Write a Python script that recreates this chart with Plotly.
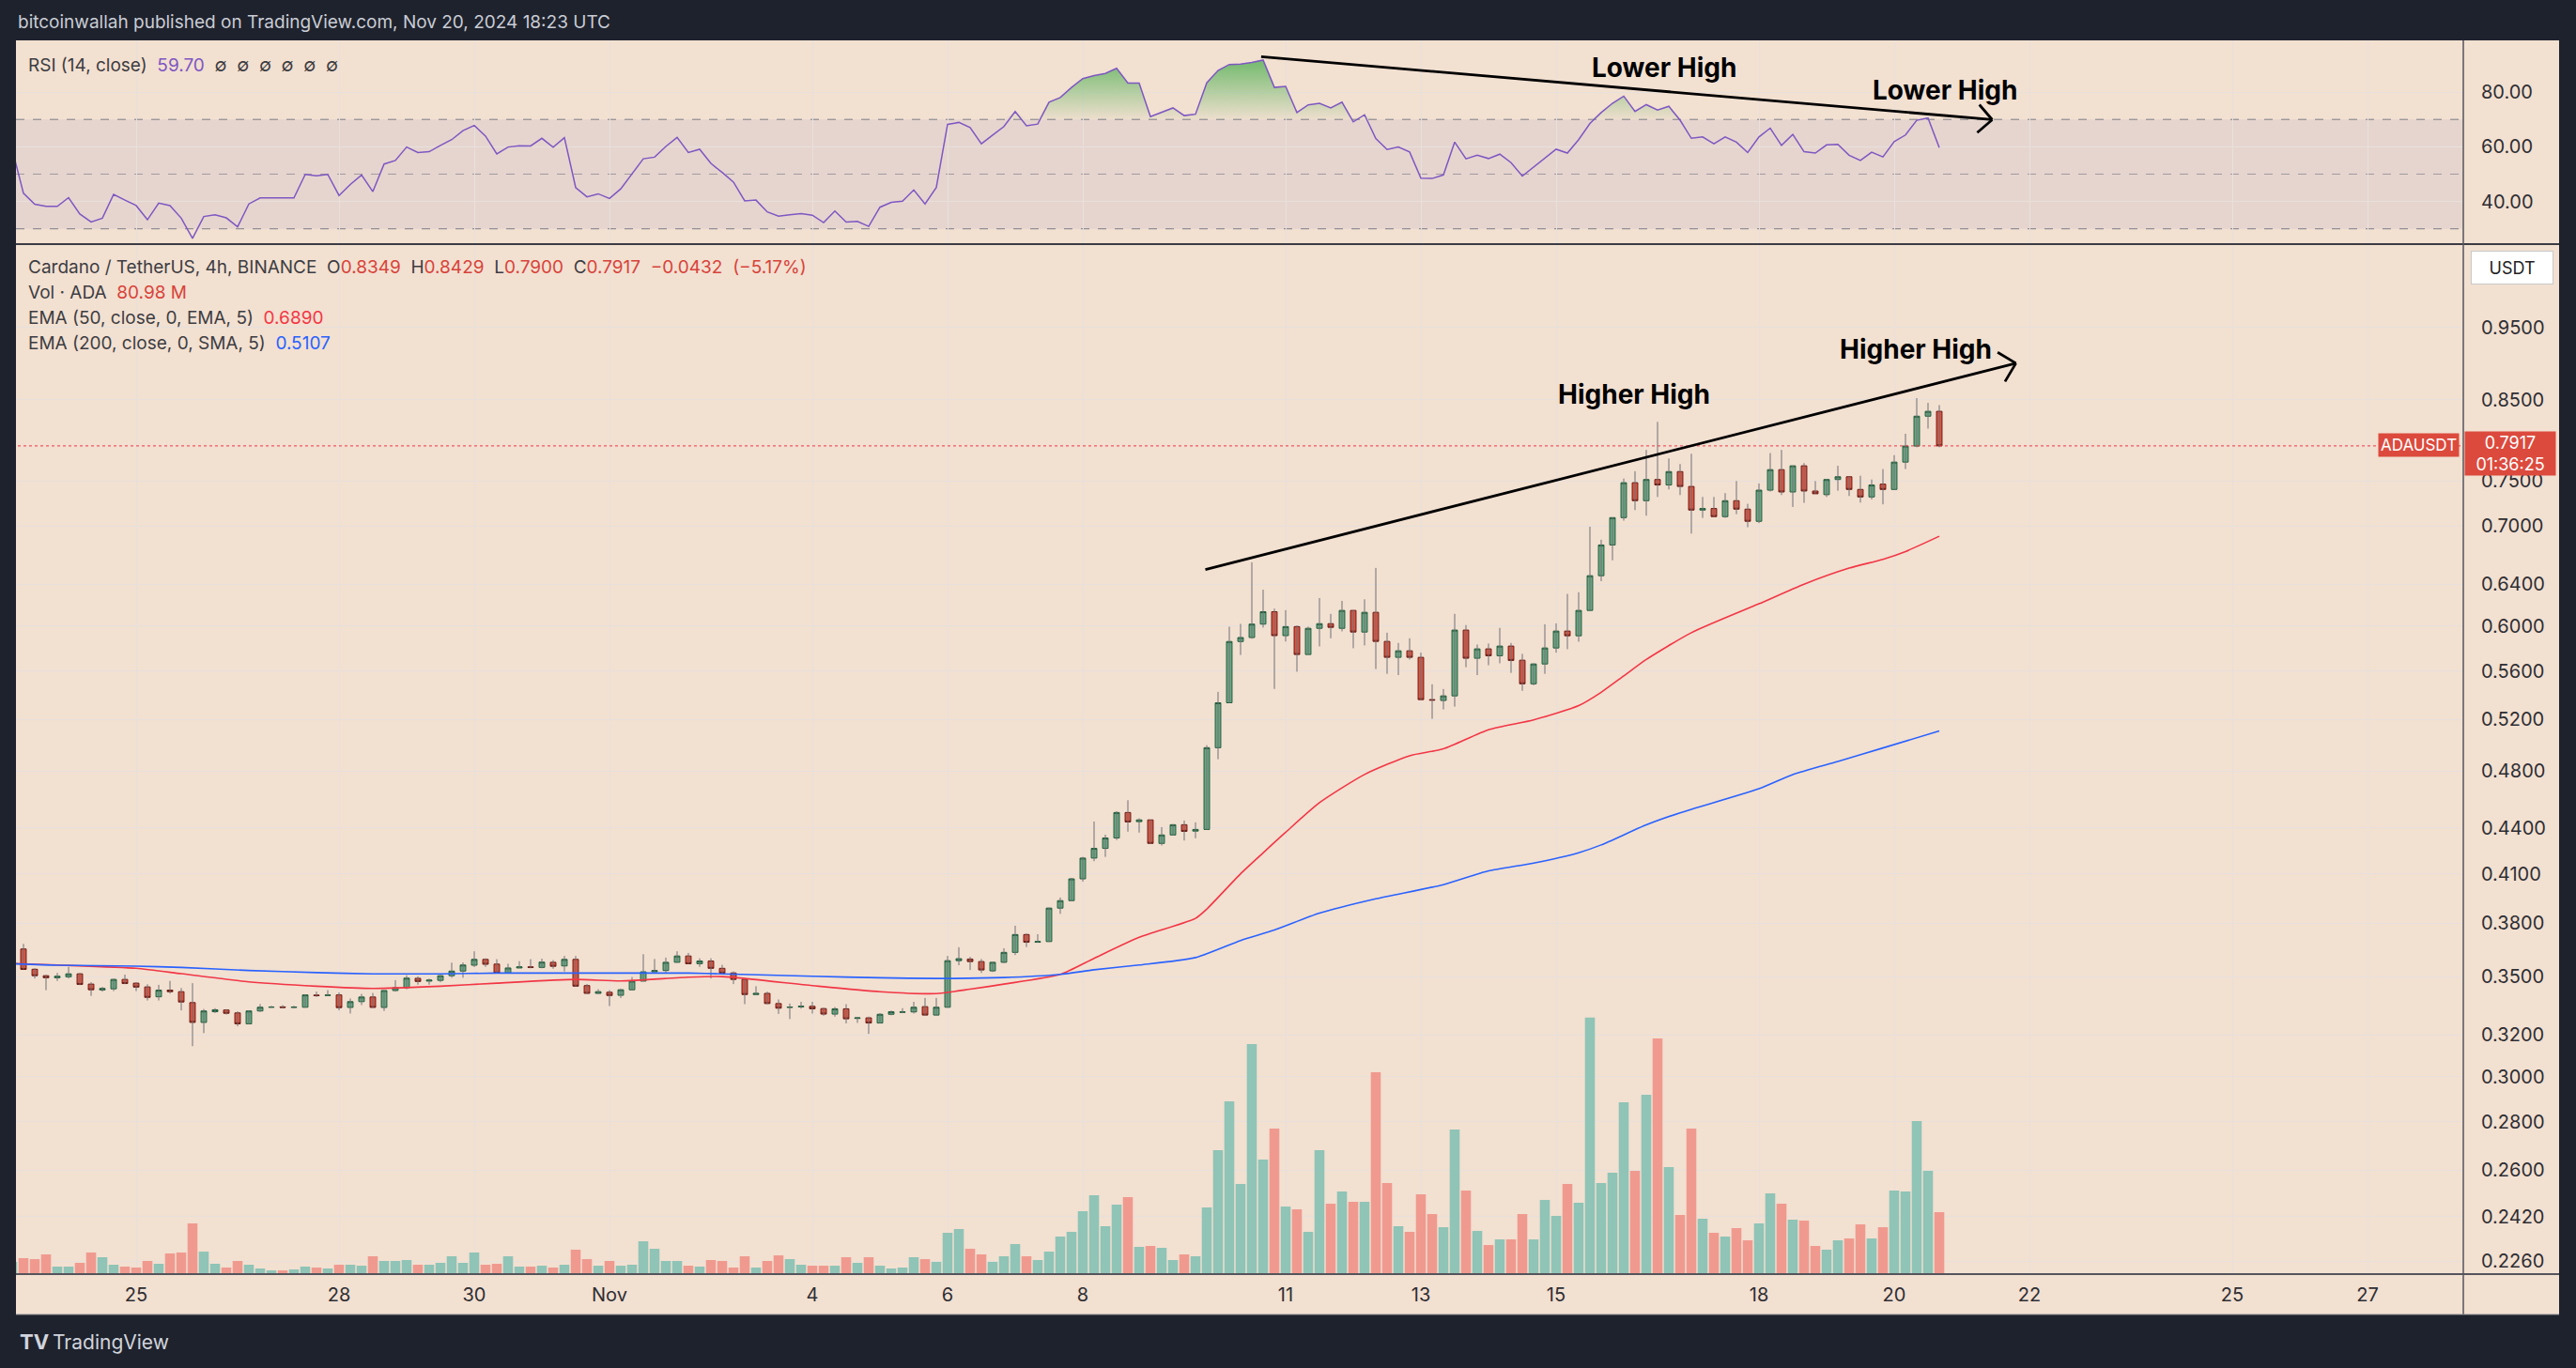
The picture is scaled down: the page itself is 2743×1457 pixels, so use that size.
import numpy as np
import pandas as pd
import plotly.graph_objects as go

W, H = 2743, 1457
FONT = "Inter, Roboto, sans-serif"

# 4h bars, first bar Oct 23 04:00 UTC, bar index 0 = Oct 25 00:00
first_bar = "2024-10-23 04:00"
bar_zero = pd.Timestamp("2024-10-25 00:00")

open_ = [
    0.3632, 0.3652, 0.3540, 0.3505, 0.3494, 0.3499, 0.3515, 0.3460, 0.3429, 0.3435,
    0.3485, 0.3465, 0.3445, 0.3393, 0.3428, 0.3420, 0.3363, 0.3262, 0.3316, 0.3325,
    0.3310, 0.3255, 0.3320, 0.3339, 0.3341, 0.3338, 0.3339, 0.3402, 0.3400, 0.3403,
    0.3338, 0.3368, 0.3392, 0.3338, 0.3426, 0.3441, 0.3491, 0.3476, 0.3480, 0.3505,
    0.3530, 0.3562, 0.3594, 0.3568, 0.3519, 0.3547, 0.3553, 0.3550, 0.3578, 0.3558,
    0.3594, 0.3452, 0.3411, 0.3417, 0.3401, 0.3430, 0.3476, 0.3526, 0.3533, 0.3578,
    0.3613, 0.3570, 0.3585, 0.3545, 0.3520, 0.3485, 0.3405, 0.3411, 0.3358, 0.3338,
    0.3341, 0.3344, 0.3332, 0.3304, 0.3331, 0.3282, 0.3285, 0.3259, 0.3303, 0.3313,
    0.3315, 0.3342, 0.3299, 0.3339, 0.3587, 0.3596, 0.3582, 0.3531, 0.3578, 0.3633,
    0.3734, 0.3690, 0.3694, 0.3889, 0.3934, 0.4068, 0.4200, 0.4263, 0.4332, 0.4505,
    0.4442, 0.4454, 0.4296, 0.4352, 0.4421, 0.4378, 0.4389, 0.4977, 0.5333, 0.5860,
    0.5896, 0.6019, 0.6135, 0.5913, 0.5996, 0.5744, 0.5980, 0.6023, 0.5980, 0.6147,
    0.5946, 0.6129, 0.5861, 0.5719, 0.5777, 0.5719, 0.5359, 0.5352, 0.5390, 0.5964,
    0.5711, 0.5794, 0.5733, 0.5819, 0.5694, 0.5491, 0.5661, 0.5802, 0.5955, 0.5912,
    0.6147, 0.6484, 0.6798, 0.7090, 0.7481, 0.7277, 0.7518, 0.7455, 0.7610, 0.7438,
    0.7173, 0.7190, 0.7101, 0.7277, 0.7183, 0.7050, 0.7396, 0.7633, 0.7375, 0.7678,
    0.7386, 0.7345, 0.7518, 0.7550, 0.7404, 0.7319, 0.7465, 0.7404, 0.7722, 0.7915,
    0.8287, 0.8349,
]
high = [
    0.3655, 0.3681, 0.3545, 0.3510, 0.3520, 0.3553, 0.3520, 0.3470, 0.3445, 0.3490,
    0.3511, 0.3470, 0.3459, 0.3456, 0.3477, 0.3439, 0.3465, 0.3330, 0.3334, 0.3329,
    0.3318, 0.3322, 0.3355, 0.3347, 0.3350, 0.3347, 0.3405, 0.3420, 0.3428, 0.3416,
    0.3384, 0.3408, 0.3413, 0.3428, 0.3481, 0.3507, 0.3502, 0.3489, 0.3509, 0.3576,
    0.3577, 0.3639, 0.3600, 0.3595, 0.3570, 0.3584, 0.3595, 0.3598, 0.3590, 0.3613,
    0.3613, 0.3460, 0.3433, 0.3428, 0.3436, 0.3498, 0.3623, 0.3596, 0.3604, 0.3639,
    0.3630, 0.3600, 0.3600, 0.3564, 0.3528, 0.3487, 0.3449, 0.3420, 0.3379, 0.3358,
    0.3367, 0.3367, 0.3337, 0.3340, 0.3355, 0.3290, 0.3291, 0.3309, 0.3322, 0.3334,
    0.3367, 0.3387, 0.3387, 0.3613, 0.3662, 0.3608, 0.3596, 0.3582, 0.3656, 0.3785,
    0.3741, 0.3736, 0.3892, 0.3953, 0.4074, 0.4208, 0.4443, 0.4354, 0.4514, 0.4591,
    0.4465, 0.4456, 0.4405, 0.4425, 0.4450, 0.4437, 0.4996, 0.5423, 0.5995, 0.6021,
    0.6619, 0.6346, 0.6164, 0.6150, 0.6007, 0.5996, 0.6265, 0.6114, 0.6238, 0.6150,
    0.6253, 0.6562, 0.5940, 0.5847, 0.5889, 0.5761, 0.5487, 0.5447, 0.6114, 0.6010,
    0.5833, 0.5842, 0.5984, 0.5847, 0.5750, 0.5667, 0.6017, 0.6026, 0.6305, 0.6321,
    0.6992, 0.6853, 0.7092, 0.7529, 0.7614, 0.7868, 0.8215, 0.7766, 0.7699, 0.7822,
    0.7319, 0.7319, 0.7362, 0.7501, 0.7242, 0.7473, 0.7830, 0.7868, 0.7680, 0.7710,
    0.7500, 0.7520, 0.7678, 0.7550, 0.7561, 0.7518, 0.7640, 0.7805, 0.8066, 0.8520,
    0.8459, 0.8429,
]
low = [
    0.3628, 0.3539, 0.3490, 0.3428, 0.3477, 0.3490, 0.3455, 0.3398, 0.3420, 0.3423,
    0.3460, 0.3423, 0.3374, 0.3374, 0.3410, 0.3323, 0.3145, 0.3209, 0.3310, 0.3302,
    0.3243, 0.3252, 0.3315, 0.3336, 0.3333, 0.3333, 0.3337, 0.3392, 0.3398, 0.3323,
    0.3307, 0.3350, 0.3337, 0.3320, 0.3420, 0.3433, 0.3457, 0.3457, 0.3470, 0.3494,
    0.3494, 0.3552, 0.3553, 0.3516, 0.3516, 0.3545, 0.3545, 0.3545, 0.3543, 0.3528,
    0.3445, 0.3408, 0.3408, 0.3345, 0.3387, 0.3426, 0.3475, 0.3525, 0.3520, 0.3575,
    0.3570, 0.3553, 0.3490, 0.3511, 0.3460, 0.3355, 0.3403, 0.3355, 0.3305, 0.3279,
    0.3332, 0.3307, 0.3296, 0.3291, 0.3257, 0.3260, 0.3205, 0.3257, 0.3298, 0.3310,
    0.3307, 0.3296, 0.3296, 0.3337, 0.3562, 0.3536, 0.3520, 0.3525, 0.3573, 0.3618,
    0.3663, 0.3688, 0.3692, 0.3855, 0.3930, 0.4050, 0.4180, 0.4208, 0.4318, 0.4374,
    0.4368, 0.4294, 0.4282, 0.4348, 0.4315, 0.4330, 0.4387, 0.4890, 0.5330, 0.5740,
    0.5885, 0.5987, 0.5448, 0.5860, 0.5594, 0.5744, 0.5816, 0.5889, 0.5952, 0.5800,
    0.5825, 0.5617, 0.5576, 0.5565, 0.5700, 0.5359, 0.5203, 0.5279, 0.5302, 0.5633,
    0.5565, 0.5650, 0.5667, 0.5584, 0.5432, 0.5478, 0.5576, 0.5760, 0.5791, 0.5858,
    0.6145, 0.6430, 0.6640, 0.7057, 0.7173, 0.7111, 0.7319, 0.7404, 0.7340, 0.6918,
    0.7087, 0.7101, 0.7087, 0.7128, 0.6986, 0.7030, 0.7380, 0.7340, 0.7207, 0.7253,
    0.7355, 0.7319, 0.7390, 0.7330, 0.7256, 0.7290, 0.7236, 0.7400, 0.7640, 0.7900,
    0.8130, 0.7900,
]
close_ = [
    0.3652, 0.3539, 0.3505, 0.3494, 0.3502, 0.3515, 0.3458, 0.3430, 0.3437, 0.3485,
    0.3463, 0.3444, 0.3390, 0.3428, 0.3420, 0.3366, 0.3262, 0.3320, 0.3326, 0.3308,
    0.3255, 0.3320, 0.3339, 0.3340, 0.3338, 0.3340, 0.3403, 0.3399, 0.3402, 0.3337,
    0.3368, 0.3392, 0.3338, 0.3426, 0.3441, 0.3492, 0.3474, 0.3481, 0.3505, 0.3530,
    0.3563, 0.3594, 0.3567, 0.3519, 0.3547, 0.3553, 0.3550, 0.3579, 0.3556, 0.3594,
    0.3449, 0.3411, 0.3420, 0.3400, 0.3430, 0.3476, 0.3526, 0.3533, 0.3578, 0.3613,
    0.3570, 0.3585, 0.3545, 0.3519, 0.3485, 0.3405, 0.3411, 0.3358, 0.3334, 0.3340,
    0.3344, 0.3331, 0.3304, 0.3331, 0.3280, 0.3285, 0.3259, 0.3303, 0.3316, 0.3315,
    0.3339, 0.3299, 0.3339, 0.3587, 0.3598, 0.3582, 0.3536, 0.3578, 0.3633, 0.3734,
    0.3690, 0.3694, 0.3889, 0.3934, 0.4068, 0.4200, 0.4263, 0.4332, 0.4505, 0.4440,
    0.4454, 0.4296, 0.4352, 0.4421, 0.4376, 0.4389, 0.4977, 0.5333, 0.5860, 0.5896,
    0.6019, 0.6135, 0.5913, 0.5996, 0.5744, 0.5980, 0.6023, 0.5989, 0.6147, 0.5946,
    0.6129, 0.5861, 0.5719, 0.5777, 0.5719, 0.5359, 0.5355, 0.5390, 0.5964, 0.5711,
    0.5794, 0.5733, 0.5819, 0.5692, 0.5491, 0.5661, 0.5802, 0.5955, 0.5912, 0.6147,
    0.6484, 0.6798, 0.7090, 0.7481, 0.7277, 0.7518, 0.7455, 0.7610, 0.7438, 0.7173,
    0.7190, 0.7101, 0.7277, 0.7183, 0.7050, 0.7396, 0.7633, 0.7375, 0.7678, 0.7386,
    0.7355, 0.7518, 0.7550, 0.7404, 0.7319, 0.7455, 0.7404, 0.7722, 0.7915, 0.8287,
    0.8349, 0.7917,
]
# volume in millions of ADA
volume_m = [
    16.0, 20.9, 19.6, 25.8, 9.8, 9.8, 14.7, 28.2, 22.1, 12.3,
    9.8, 8.6, 17.2, 13.5, 27.0, 28.2, 66.3, 29.4, 13.5, 8.6,
    17.2, 12.3, 7.4, 4.9, 4.9, 6.1, 9.8, 8.6, 7.4, 12.3,
    12.3, 11.0, 23.3, 17.2, 17.2, 18.4, 12.3, 12.3, 14.7, 23.3,
    14.7, 28.2, 12.3, 13.5, 23.3, 9.8, 9.8, 11.0, 8.6, 12.3,
    31.9, 19.6, 11.0, 17.2, 11.0, 12.3, 42.9, 33.1, 17.2, 17.2,
    11.0, 9.8, 18.4, 17.2, 8.6, 23.3, 8.6, 17.2, 24.5, 19.6,
    12.3, 11.0, 11.0, 11.0, 22.1, 14.7, 22.1, 11.0, 7.4, 8.6,
    22.1, 19.6, 16.0, 54.0, 58.9, 33.1, 25.8, 16.0, 23.3, 39.3,
    23.3, 18.4, 29.4, 49.1, 55.2, 82.2, 103.1, 62.6, 90.8, 100.6,
    35.6, 36.8, 34.4, 18.4, 25.8, 23.3, 87.1, 162.0, 225.8, 117.8,
    300.6, 149.7, 190.2, 88.3, 84.7, 55.2, 162.0, 92.0, 108.0, 94.5,
    94.5, 263.8, 119.0, 62.6, 55.2, 104.3, 78.5, 61.3, 189.0, 109.2,
    56.4, 38.0, 45.4, 45.4, 78.5, 45.4, 96.9, 76.1, 117.8, 93.3,
    335.4, 119.0, 132.5, 224.5, 135.0, 234.4, 308.0, 139.9, 77.3, 190.2,
    72.4, 54.0, 49.1, 60.1, 44.2, 66.3, 105.5, 92.0, 71.2, 69.9,
    36.8, 31.9, 44.2, 46.6, 65.0, 46.6, 61.3, 109.2, 108.0, 200.0,
    135.0, 80.98,
]
rsi = [
    59.0, 43.0, 39.0, 38.2, 38.2, 41.4, 35.4, 32.5, 33.9, 42.6,
    40.5, 38.5, 33.3, 39.4, 38.5, 33.9, 26.5, 34.5, 35.1, 34.0,
    30.7, 39.1, 41.3, 41.3, 41.3, 41.3, 49.9, 49.4, 49.9, 42.2,
    46.2, 49.7, 43.6, 53.7, 55.0, 59.9, 57.9, 58.2, 60.5, 62.6,
    65.9, 67.8, 63.9, 57.4, 59.9, 60.4, 60.3, 63.1, 59.8, 63.3,
    45.1, 41.7, 42.8, 41.1, 44.6, 50.2, 55.6, 56.2, 60.1, 63.4,
    57.9, 59.1, 53.9, 50.6, 47.1, 40.2, 40.5, 36.2, 34.6, 35.1,
    35.6, 35.0, 32.3, 36.5, 32.5, 32.7, 30.9, 37.9, 39.7, 40.1,
    44.2, 39.1, 45.1, 68.2, 68.9, 67.0, 61.1, 64.3, 67.4, 72.9,
    67.7, 68.3, 76.3, 78.0, 81.7, 84.9, 86.0, 86.8, 88.7, 83.3,
    83.3, 71.0, 72.7, 74.2, 71.4, 71.9, 83.4, 87.9, 90.1, 90.2,
    90.8, 91.7, 81.7, 82.1, 72.5, 75.3, 75.9, 74.2, 76.3, 69.1,
    71.7, 63.0, 59.0, 59.9, 58.1, 48.5, 48.4, 49.7, 61.7, 55.6,
    56.9, 55.7, 57.3, 54.2, 49.3, 52.5, 55.9, 59.1, 57.7, 62.6,
    68.5, 72.5, 75.9, 78.5, 72.9, 75.4, 73.4, 74.8, 69.7, 63.1,
    63.6, 61.1, 63.6, 61.7, 57.9, 63.6, 66.8, 60.5, 64.5, 58.2,
    57.7, 60.7, 60.9, 56.9, 55.0, 58.0, 56.3, 61.9, 64.3, 69.7,
    70.5, 59.7,
]

# moving averages at some bars (bar index, value)
ema50_bar = [-11, -7, 0, 4, 10, 16, 21, 27, 32, 39, 43, 49, 52, 60, 66, 71, 74, 77,
             82, 85, 89, 94, 95, 98, 100, 102, 105, 109, 113, 116, 120, 124, 128,
             130, 132, 134, 138, 144, 148, 152, 155, 157, 160]
ema50 = [0.3572, 0.3563, 0.3545, 0.3516, 0.3472, 0.3449, 0.3437, 0.3449, 0.3465,
         0.3485, 0.3477, 0.3497, 0.3500, 0.3452, 0.3420, 0.3410, 0.3433, 0.3460,
         0.3512, 0.3600, 0.3718, 0.3828, 0.3883, 0.4100, 0.4234, 0.4370, 0.4573,
         0.4776, 0.4916, 0.4968, 0.5116, 0.5195, 0.5310, 0.5420, 0.5558, 0.5700,
         0.5940, 0.6210, 0.6400, 0.6560, 0.6650, 0.6730, 0.6890]
ema200_bar = [-11, -7, 0, 4, 10, 16, 21, 27, 32, 39, 49, 52, 60, 66, 71, 77, 82, 85,
              89, 94, 98, 101, 105, 110, 116, 120, 124, 128, 130, 134, 137, 144,
              147, 151, 155, 160]
ema200 = [0.3570, 0.3562, 0.3557, 0.3550, 0.3533, 0.3522, 0.3515, 0.3515, 0.3519,
          0.3519, 0.3519, 0.3515, 0.3502, 0.3494, 0.3490, 0.3495, 0.3512, 0.3537,
          0.3563, 0.3604, 0.3700, 0.3760, 0.3859, 0.3945, 0.4032, 0.4118, 0.4168,
          0.4235, 0.4286, 0.4420, 0.4503, 0.4673, 0.4776, 0.4873, 0.4975, 0.5107]

last_price = 0.7917

# hand-drawn trend lines (bar index, value)
price_trend_bar = [94.75, 166.8]
price_trend = [0.6543, 0.899]
rsi_trend_bar = [99.7, 164.7]
rsi_trend = [93.0, 69.9]

price_ticks = [0.2260, 0.2420, 0.2600, 0.2800, 0.3000, 0.3200, 0.3500, 0.3800, 0.4100,
               0.4400, 0.4800, 0.5200, 0.5600, 0.6000, 0.6400, 0.7000, 0.7500, 0.8500,
               0.9500]
rsi_ticks = [40, 60, 80]
date_ticks = ["2024-10-25", "2024-10-28", "2024-10-30", "2024-11-01", "2024-11-04",
              "2024-11-06", "2024-11-08", "2024-11-11", "2024-11-13", "2024-11-15",
              "2024-11-18", "2024-11-20", "2024-11-22", "2024-11-25", "2024-11-27"]
date_labels = ["25", "28", "30", "Nov", "4", "6", "8", "11", "13", "15", "18", "20",
               "22", "25", "27"]

BG = "#f2e0d1"
DARK = "#1e222d"
GRID = "#e8e0dc"
UP, UP_EDGE = "#6ba583", "#1f5e3b"
DOWN, DOWN_EDGE = "#d75442", "#6e1a12"
RED = "#f23645"
BLUE = "#2962ff"
PURPLE = "#7e57c2"


def at_bar(k):
    return bar_zero + pd.Timedelta(hours=4 * k)


def px(x):
    return x / W


def py(y):
    return 1 - y / H


times = pd.date_range(first_bar, periods=len(close_), freq="4h")

fig = go.Figure()

# wicks (grey), drawn under the bodies
wx, wy = [], []
for t, lo, hi in zip(times, low, high):
    wx += [t, t, None]
    wy += [lo, hi, None]
fig.add_trace(go.Scatter(x=wx, y=wy, mode="lines", line=dict(color="#707074", width=1),
                         xaxis="x", yaxis="y2", hoverinfo="skip"))

fig.add_trace(go.Candlestick(
    x=times, open=open_, close=close_,
    high=[max(o, c) for o, c in zip(open_, close_)],
    low=[min(o, c) for o, c in zip(open_, close_)],
    increasing=dict(fillcolor=UP, line=dict(color=UP_EDGE, width=1)),
    decreasing=dict(fillcolor=DOWN, line=dict(color=DOWN_EDGE, width=1)),
    whiskerwidth=0, xaxis="x", yaxis="y2"))

fig.add_trace(go.Scatter(x=[at_bar(k) for k in ema50_bar], y=ema50, mode="lines",
                         line=dict(color=RED, width=1.6, shape="spline", smoothing=0.6),
                         xaxis="x", yaxis="y2"))
fig.add_trace(go.Scatter(x=[at_bar(k) for k in ema200_bar], y=ema200, mode="lines",
                         line=dict(color=BLUE, width=1.6, shape="spline", smoothing=0.6),
                         xaxis="x", yaxis="y2"))

# last price line
fig.add_trace(go.Scatter(x=[at_bar(-12), at_bar(210)], y=[last_price, last_price],
                         mode="lines", line=dict(color=RED, width=1, dash="dot"),
                         xaxis="x", yaxis="y2"))

vol_colors = ["#8fc4b6" if c >= o else "#f09a8f" for o, c in zip(open_, close_)]
fig.add_trace(go.Bar(x=times, y=volume_m, marker=dict(color=vol_colors, line=dict(width=0)),
                     xaxis="x", yaxis="y3"))

# RSI with overbought fill
fig.add_trace(go.Scatter(x=times, y=[70] * len(rsi), mode="lines", line=dict(width=0),
                         xaxis="x", yaxis="y", hoverinfo="skip"))
fig.add_trace(go.Scatter(x=times, y=[max(v, 70) for v in rsi], mode="lines",
                         line=dict(width=0), fill="tonexty",
                         fillgradient=dict(type="vertical", start=70, stop=92,
                                           colorscale=[[0, "rgba(76,175,80,0.03)"],
                                                       [1, "rgba(76,175,80,0.78)"]]),
                         xaxis="x", yaxis="y", hoverinfo="skip"))
fig.add_trace(go.Scatter(x=times, y=rsi, mode="lines", line=dict(color=PURPLE, width=1.5),
                         xaxis="x", yaxis="y"))

shapes = [
    # chart background (panes + axes area)
    dict(type="rect", xref="paper", yref="paper", x0=px(17), x1=px(2725), y0=py(1400),
         y1=py(43), fillcolor=BG, line=dict(width=0), layer="below"),
    # RSI band
    dict(type="rect", xref="paper", yref="y", x0=px(17), x1=px(2623), y0=30, y1=70,
         fillcolor="#e6d5cf", line=dict(width=0), layer="below"),
]
for lvl, col in [(70, "#7d7d86"), (50, "#a09aa0"), (30, "#7d7d86")]:
    shapes.append(dict(type="line", xref="paper", yref="y", x0=px(17), x1=px(2623),
                       y0=lvl, y1=lvl, line=dict(color=col, width=1, dash="dash"),
                       layer="between"))
shapes += [
    dict(type="line", xref="paper", yref="paper", x0=px(17), x1=px(2725), y0=py(260),
         y1=py(260), line=dict(color="#3c3c44", width=2)),
    dict(type="line", xref="paper", yref="paper", x0=px(17), x1=px(2725), y0=py(1357),
         y1=py(1357), line=dict(color="#55555c", width=2)),
    dict(type="line", xref="paper", yref="paper", x0=px(2623), x1=px(2623), y0=py(1400),
         y1=py(43), line=dict(color="#55555c", width=1.5)),
    dict(type="line", xref="paper", yref="paper", x0=px(17), x1=px(2725), y0=py(1400),
         y1=py(1400), line=dict(color="#8a8a90", width=1)),
]

hdr = dict(xref="paper", yref="paper", xanchor="left", yanchor="middle", showarrow=False,
           font=dict(family=FONT, size=19, color="#3d3d42"))
nb = "\u00a0"
sep = nb * 2


def val(s, c="#d8433a"):
    return f'<span style="color:{c}">{s}</span>'


annotations = [
    dict(hdr, x=px(17), y=py(24), font=dict(family=FONT, size=19, color="#c9ccd4"),
         text="bitcoinwallah published on TradingView.com, Nov 20, 2024 18:23 UTC"),
    dict(hdr, x=px(28), y=py(69),
         text="RSI (14, close)" + sep + val("59.70", PURPLE) + sep + sep.join(["∅"] * 6)),
    dict(hdr, x=px(28), y=py(285),
         text="Cardano / TetherUS, 4h, BINANCE" + sep + "O" + val("0.8349") + sep +
         "H" + val("0.8429") + sep + "L" + val("0.7900") + sep + "C" + val("0.7917") +
         sep + val("−0.0432" + sep + "(−5.17%)")),
    dict(hdr, x=px(28), y=py(311), text="Vol · ADA" + sep + val("80.98" + nb + "M")),
    dict(hdr, x=px(28), y=py(339), text="EMA (50, close, 0, EMA, 5)" + sep + val("0.6890", RED)),
    dict(hdr, x=px(28), y=py(366), text="EMA (200, close, 0, SMA, 5)" + sep + val("0.5107", BLUE)),
    # right axis labels
    dict(x=px(2675), y=py(285), xref="paper", yref="paper", xanchor="center",
         yanchor="middle", showarrow=False, text="USDT",
         font=dict(family=FONT, size=18, color="#222"), bgcolor="#ffffff",
         bordercolor="#c9c9c9", borderwidth=1, width=84, height=32),
    dict(x=px(2624), y=py(459), xref="paper", yref="paper", xanchor="left", yanchor="top",
         showarrow=False, text="0.7917<br>01:36:25", align="center",
         font=dict(family=FONT, size=18, color="#ffffff"), bgcolor="#dc4a3d",
         width=94, borderpad=1),
    dict(x=px(2619), y=py(461), xref="paper", yref="paper", xanchor="right", yanchor="top",
         showarrow=False, text="ADAUSDT", font=dict(family=FONT, size=17, color="#ffffff"),
         bgcolor="#dc4a3d", borderpad=2),
    # footer
    dict(hdr, x=px(19), y=py(1429), text="<b>TV</b>", font=dict(family=FONT, size=22, color="#d1d4dc")),
    dict(hdr, x=px(54), y=py(1429), text="TradingView", font=dict(family=FONT, size=21, color="#d1d4dc")),
]

# trend lines, each finished with an open chevron made of two short strokes
stroke = dict(text="", showarrow=True, arrowhead=0, arrowwidth=2.8, arrowcolor="#000",
              standoff=0, startstandoff=0)
p_tip = dict(x=at_bar(price_trend_bar[1]), y=np.log10(price_trend[1]), xref="x", yref="y2")
r_tip = dict(x=at_bar(rsi_trend_bar[1]), y=rsi_trend[1], xref="x", yref="y")
annotations += [
    dict(stroke, **p_tip, ax=at_bar(price_trend_bar[0]), ay=np.log10(price_trend[0]),
         axref="x", ayref="y2"),
    dict(stroke, **p_tip, ax=-21, ay=-12.5),
    dict(stroke, **p_tip, ax=-12.5, ay=21),
    dict(stroke, **r_tip, ax=at_bar(rsi_trend_bar[0]), ay=rsi_trend[0], axref="x", ayref="y"),
    dict(stroke, **r_tip, ax=-15, ay=-17.5),
    dict(stroke, **r_tip, ax=-17.5, ay=15),
]

lab = dict(showarrow=False, font=dict(family=FONT, size=28, color="#000"))
annotations += [
    dict(lab, x=at_bar(132.9), y=np.log10(0.857), xref="x", yref="y2", text="<b>Higher High</b>"),
    dict(lab, x=at_bar(157.9), y=np.log10(0.918), xref="x", yref="y2", text="<b>Higher High</b>"),
    dict(lab, x=at_bar(135.6), y=89.1, xref="x", yref="y", text="<b>Lower High</b>"),
    dict(lab, x=at_bar(160.5), y=80.7, xref="x", yref="y", text="<b>Lower High</b>"),
]

axis_font = dict(family=FONT, size=20, color="#2e2e33")
fig.update_layout(
    width=W, height=H, margin=dict(l=0, r=0, t=0, b=0),
    paper_bgcolor=DARK, plot_bgcolor=BG, showlegend=False, bargap=0.12, boxgap=0.3,
    xaxis=dict(domain=[px(17), px(2623)], anchor="y2", type="date",
               range=[at_bar(-10.667), at_bar(206.5)], showgrid=True, gridcolor=GRID,
               tickmode="array", tickvals=date_ticks, ticktext=date_labels, ticks="",
               tickfont=axis_font, showline=False, zeroline=False,
               rangeslider=dict(visible=False), ticklabelstandoff=8),
    yaxis=dict(domain=[py(259), py(43)], anchor="x", side="right", range=[24.75, 98.9],
               tickmode="array", tickvals=rsi_ticks, ticktext=[f"{v:.2f}" for v in rsi_ticks],
               showgrid=True, gridcolor=GRID, zeroline=False, showline=False, ticks="",
               tickfont=axis_font, ticklabelstandoff=18),
    yaxis2=dict(domain=[py(1357), py(261)], anchor="x", side="right", type="log",
                range=[np.log10(0.2215), np.log10(1.0782)], tickmode="array",
                tickvals=price_ticks, ticktext=[f"{v:.4f}" for v in price_ticks],
                showgrid=True, gridcolor=GRID, zeroline=False, showline=False, ticks="",
                tickfont=axis_font, ticklabelstandoff=18),
    yaxis3=dict(overlaying="y2", anchor="x", range=[0, 1345], visible=False,
                showgrid=False),
    shapes=shapes, annotations=annotations,
)

# page body has a default margin; drop it so the figure fills the window exactly
fig.write_html("out.html", config={"displayModeBar": False},
               post_script="document.body.style.margin='0';"
                           "document.body.style.overflow='hidden';")
